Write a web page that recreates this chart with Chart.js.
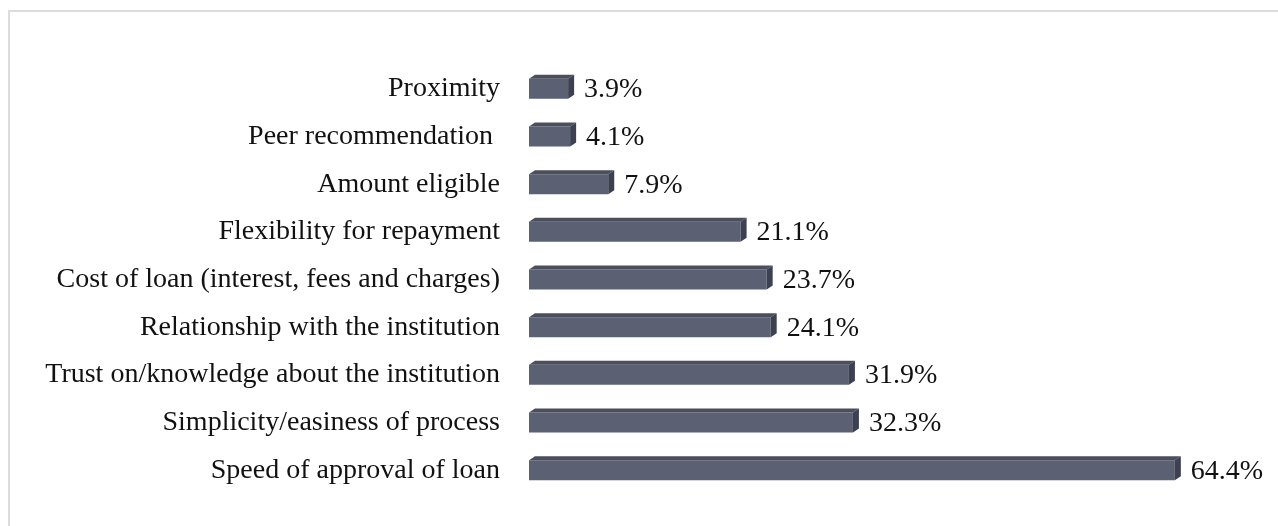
<!DOCTYPE html>
<html>
<head>
<meta charset="utf-8">
<script src="https://cdn.jsdelivr.net/npm/chart.js@4.4.1/dist/chart.umd.min.js"></script>
<style>
    html, body { margin: 0; padding: 0; background: #fff; overflow: hidden; }
    #frame { position: absolute; left: 8px; top: 10px; width: 1400px; height: 700px; border: 2px solid #dcdcdc; }
    #reasonsChart { position: absolute; left: 0; top: 0; }
</style>
</head>
<body>
<div id="frame"></div>
<canvas id="reasonsChart" width="1278" height="526"></canvas>
<script>
// Reasons for choosing a lender (% of respondents)
const reasons = [
    'Proximity',
    'Peer recommendation ',
    'Amount eligible',
    'Flexibility for repayment',
    'Cost of loan (interest, fees and charges)',
    'Relationship with the institution',
    'Trust on/knowledge about the institution',
    'Simplicity/easiness of process',
    'Speed of approval of loan'
];
const shares = [3.9, 4.1, 7.9, 21.1, 23.7, 24.1, 31.9, 32.3, 64.4];

const FONT = '"Liberation Serif", "Times New Roman", serif';
const DEPTH_X = 6;
const DEPTH_Y = 4;

// Fake 3D: top and right faces on each bar
const bar3d = {
    id: 'bar3d',
    afterDatasetsDraw(chart) {
        const ctx = chart.ctx;
        chart.getDatasetMeta(0).data.forEach(bar => {
            const { x, y, base, height } = bar.getProps(['x', 'y', 'base', 'height'], true);
            const top = y - height / 2;
            const bottom = y + height / 2;
            ctx.save();
            ctx.fillStyle = '#4a4e5e';
            ctx.beginPath();
            ctx.moveTo(base, top);
            ctx.lineTo(base + DEPTH_X, top - DEPTH_Y);
            ctx.lineTo(x + DEPTH_X, top - DEPTH_Y);
            ctx.lineTo(x, top);
            ctx.closePath();
            ctx.fill();
            ctx.fillStyle = '#3d4051';
            ctx.beginPath();
            ctx.moveTo(x, top);
            ctx.lineTo(x + DEPTH_X, top - DEPTH_Y);
            ctx.lineTo(x + DEPTH_X, bottom - DEPTH_Y);
            ctx.lineTo(x, bottom);
            ctx.closePath();
            ctx.fill();
            ctx.restore();
        });
    }
};

// Percentage labels right of each bar
const valueLabels = {
    id: 'valueLabels',
    afterDatasetsDraw(chart) {
        const ctx = chart.ctx;
        const ds = chart.data.datasets[0];
        ctx.save();
        ctx.font = '28px ' + FONT;
        ctx.fillStyle = '#111';
        ctx.textAlign = 'left';
        ctx.textBaseline = 'middle';
        chart.getDatasetMeta(0).data.forEach((bar, i) => {
            ctx.fillText(ds.data[i].toFixed(1) + '%', bar.x + 16, bar.y + 1);
        });
        ctx.restore();
    }
};

new Chart(document.getElementById('reasonsChart'), {
    type: 'bar',
    data: {
        labels: reasons,
        datasets: [{
            data: shares,
            backgroundColor: '#5b6072',
            borderWidth: 0,
            barPercentage: 0.42,
            categoryPercentage: 1
        }]
    },
    options: {
        indexAxis: 'y',
        responsive: false,
        animation: false,
        layout: { padding: { left: 0, right: 47, top: 65, bottom: 32 } },
        plugins: { legend: { display: false }, tooltip: { enabled: false } },
        scales: {
            x: { display: false, min: 0, max: 70 },
            y: {
                afterFit(scale) { scale.width = 529; },
                // tick marks hidden, their length just spaces the labels off the bars
                grid: { display: false, drawTicks: true, tickLength: 29 },
                border: { display: false },
                ticks: { color: '#111', padding: 0, font: { family: FONT, size: 28 } }
            }
        }
    },
    plugins: [bar3d, valueLabels]
});
</script>
</body>
</html>
